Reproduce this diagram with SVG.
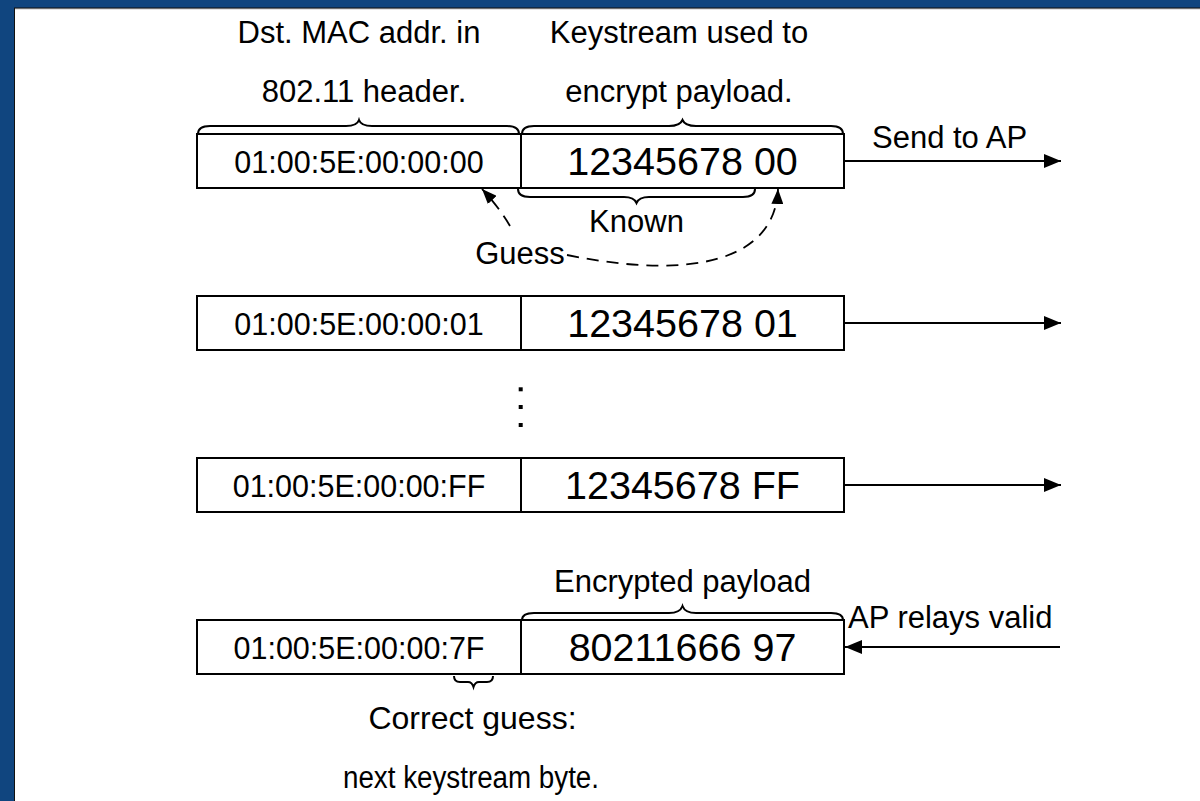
<svg xmlns="http://www.w3.org/2000/svg" width="1200" height="801" viewBox="0 0 1200 801">
<style>
.box{fill:#fff;stroke:#000;stroke-width:2}
.brace{fill:none;stroke:#000;stroke-width:2}
.ln{fill:none;stroke:#000;stroke-width:2}
.dash{fill:none;stroke:#000;stroke-width:1.8;stroke-dasharray:12 8}
text{font-family:"Liberation Sans",Arial,Helvetica,sans-serif;fill:#000}
.lbl{font-size:31px}
.mac{font-size:30.5px;text-anchor:middle}
.ks{font-size:39.5px;text-anchor:middle}
.c{text-anchor:middle}
</style>
<defs>
<marker id="ah" markerUnits="userSpaceOnUse" markerWidth="17" markerHeight="14" refX="17" refY="7" orient="auto">
<path d="M0,0 L17,7 L0,14 z" fill="#000"/>
</marker>
<marker id="ahs" markerUnits="userSpaceOnUse" markerWidth="15" markerHeight="12" refX="15" refY="6" orient="auto">
<path d="M0,0 L15,6 L0,12 z" fill="#000"/>
</marker>
</defs>
<rect x="0" y="0" width="1200" height="801" fill="#10457f"/>
<rect x="14" y="7.5" width="1200" height="801" fill="#111"/>
<rect x="15" y="8.5" width="1200" height="801" fill="#c8c8c8"/>
<rect x="15" y="9.5" width="1200" height="801" fill="#fff"/>

<g id="label-dst">
<text class="lbl c" x="359" y="43">Dst. MAC addr. in</text>
<text class="lbl c" x="364" y="102">802.11 header.</text>
</g>
<g id="label-keystream">
<text class="lbl c" x="679" y="43">Keystream used to</text>
<text class="lbl c" x="679" y="102">encrypt payload.</text>
</g>

<g id="row1">
<rect class="box" x="197" y="134" width="324" height="54"/>
<rect class="box" x="521" y="134" width="323" height="54"/>
<text class="mac" x="359" y="172.5">01:00:5E:00:00:00</text>
<text class="ks" x="682.5" y="175">12345678 00</text>
<path class="brace" d="M198,134 Q198,126 210,126 L346,126 Q357,126 359,120 Q361,126 372,126 L507,126 Q519,126 519,134"/>
<path class="brace" d="M522,134 Q522,126 534,126 L669,126 Q680,126 682.5,120 Q685,126 696,126 L831,126 Q843,126 843,134"/>
<path class="brace" d="M518,189 Q518,197 530,197 L624,197 Q634,197 636.5,203 Q639,197 649,197 L743,197 Q755,197 755,189"/>
</g>
<g id="label-known"><text class="lbl c" x="636.5" y="232">Known</text></g>
<g id="label-guess"><text class="lbl c" x="520" y="264">Guess</text></g>
<g id="label-send"><text class="lbl" x="872" y="148">Send to AP</text></g>

<g id="row2">
<rect class="box" x="197" y="296" width="324" height="54"/>
<rect class="box" x="521" y="296" width="323" height="54"/>
<text class="mac" x="359" y="334.5">01:00:5E:00:00:01</text>
<text class="ks" x="682.5" y="337">12345678 01</text>
</g>

<g id="ellipsis">
<rect x="518.7" y="387.3" width="4" height="4" fill="#000"/>
<rect x="518.7" y="405" width="4" height="4" fill="#000"/>
<rect x="518.7" y="423" width="4" height="4" fill="#000"/>
</g>

<g id="row3">
<rect class="box" x="197" y="458" width="324" height="54"/>
<rect class="box" x="521" y="458" width="323" height="54"/>
<text class="mac" x="359" y="496.5">01:00:5E:00:00:FF</text>
<text class="ks" x="682.5" y="499">12345678 FF</text>
</g>

<g id="row4">
<rect class="box" x="197" y="620" width="324" height="54"/>
<rect class="box" x="521" y="620" width="323" height="54"/>
<text class="mac" x="359" y="658.5">01:00:5E:00:00:7F</text>
<text class="ks" x="682.5" y="661">80211666 97</text>
<path class="brace" d="M522,620 Q522,613 534,613 L669,613 Q680,613 682.5,606 Q685,613 696,613 L831,613 Q843,613 843,620"/>
<path class="brace" d="M454,676 Q454,682 460,682 L468,682 Q472,682 473.5,687 Q475,682 479,682 L487,682 Q493,682 493,676"/>
</g>
<g id="label-encrypted"><text class="lbl c" x="682.5" y="592">Encrypted payload</text></g>
<g id="label-relays"><text class="lbl" x="848" y="628">AP relays valid</text></g>
<g id="label-correct">
<text class="c" font-size="32" x="472.5" y="729">Correct guess:</text>
<text class="c" font-size="31" x="471" y="788" textLength="256" lengthAdjust="spacingAndGlyphs">next keystream byte.</text>
</g>

<g id="connectors">
<line class="ln" x1="844" y1="161" x2="1061" y2="161" marker-end="url(#ah)"/>
<line class="ln" x1="844" y1="323" x2="1061" y2="323" marker-end="url(#ah)"/>
<line class="ln" x1="844" y1="485" x2="1061" y2="485" marker-end="url(#ah)"/>
<line class="ln" x1="1060" y1="647" x2="845" y2="647" marker-end="url(#ah)"/>
<path class="dash" d="M510,226 Q498,206 482,189" marker-end="url(#ahs)"/>
<path class="dash" d="M567,255 C690,280 775,262 778,189" marker-end="url(#ahs)"/>
</g>
</svg>
